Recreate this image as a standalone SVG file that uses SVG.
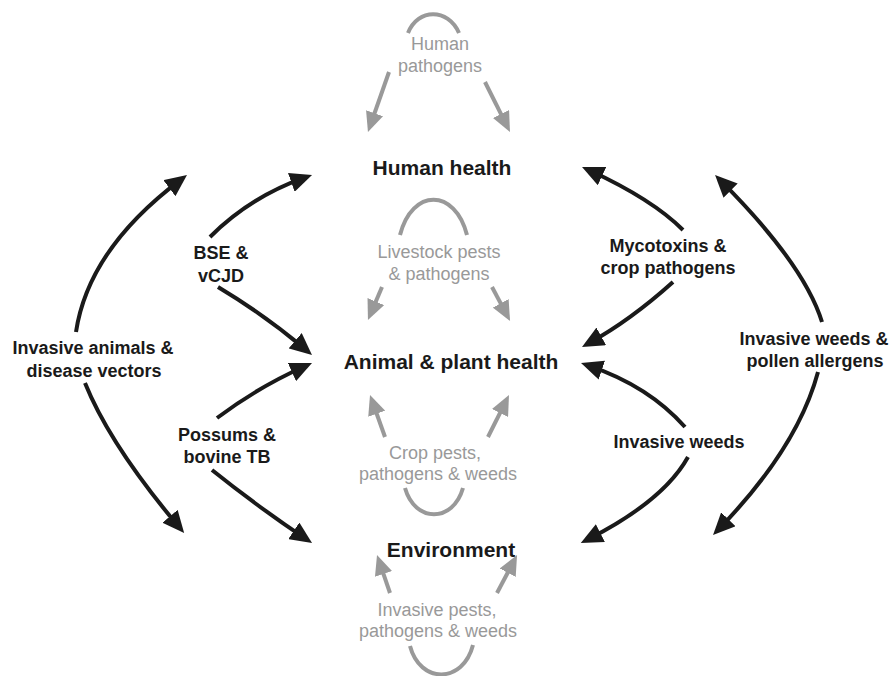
<svg xmlns="http://www.w3.org/2000/svg" width="894" height="676" viewBox="0 0 894 676">
  <defs>
    <marker id="arrow-dark" viewBox="0 0 22 20" refX="14" refY="10" markerWidth="22" markerHeight="20" markerUnits="userSpaceOnUse" orient="auto">
      <path d="M0,0 L22,10 L0,20 z" fill="#1a1a1a"/>
    </marker>
    <marker id="arrow-grey" viewBox="0 0 20 18" refX="12" refY="9" markerWidth="20" markerHeight="18" markerUnits="userSpaceOnUse" orient="auto">
      <path d="M0,0 L20,9 L0,18 z" fill="#999999"/>
    </marker>
  </defs>
  <style>
    .title { font-family: "Liberation Sans", Arial, sans-serif; font-weight: bold; font-size: 21px; fill: #1a1a1a; text-anchor: middle; }
    .label { font-family: "Liberation Sans", Arial, sans-serif; font-weight: bold; font-size: 18px; fill: #1a1a1a; text-anchor: middle; }
    .glabel { font-family: "Liberation Sans", Arial, sans-serif; font-size: 18px; fill: #999999; text-anchor: middle; }
    .dark { fill: none; stroke: #1a1a1a; stroke-width: 4; marker-end: url(#arrow-dark); }
    .grey { fill: none; stroke: #999999; stroke-width: 4; }
    .grey-arrow { fill: none; stroke: #999999; stroke-width: 4; marker-end: url(#arrow-grey); }
  </style>
  <rect width="894" height="676" fill="#ffffff"/>

  <!-- nodes -->
  <g id="human-health">
    <text class="title" x="442" y="175">Human health</text>
  </g>
  <g id="animal-plant-health">
    <text class="title" x="451" y="369">Animal &amp; plant health</text>
  </g>
  <g id="environment">
    <text class="title" x="451" y="557">Environment</text>
  </g>

  <!-- connectors -->
  <g id="connectors">
    <!-- BSE & vCJD -->
    <path class="dark" d="M210,237 Q250,197 304.5,177.7"/>
    <path class="dark" d="M218,287 Q265.6,315.6 305.9,349.8"/>
    <!-- Invasive animals & disease vectors -->
    <path class="dark" d="M76,332 Q88.5,249 180.6,179.8"/>
    <path class="dark" d="M85,383 Q110,445 179,527"/>
    <!-- Possums & bovine TB -->
    <path class="dark" d="M217,418 Q257.8,387.4 304.7,366.3"/>
    <path class="dark" d="M212,470 Q258.2,507 305.4,538.6"/>
    <!-- Mycotoxins & crop pathogens -->
    <path class="dark" d="M683,230 Q652.4,199.4 589.3,170.3"/>
    <path class="dark" d="M673,282 Q630.3,320.4 589,343.1"/>
    <!-- Invasive weeds -->
    <path class="dark" d="M685,427 Q648.7,386 588.6,365.6"/>
    <path class="dark" d="M688,457 Q663.6,500.9 587.9,539.4"/>
    <!-- Invasive weeds & pollen allergens -->
    <path class="dark" d="M822,322 Q804,264 720.7,180.7"/>
    <path class="dark" d="M818,372 Q797.5,448 718.6,529.3"/>

    <!-- Human pathogens loop -->
    <path class="grey" d="M408,33 C418,8 448,8 459,33"/>
    <path class="grey-arrow" d="M389,72 L370.6,124.5"/>
    <path class="grey-arrow" d="M485,82 L506.4,124.8"/>
    <!-- Livestock pests & pathogens loop -->
    <path class="grey" d="M400,235 C412,188 455,188 467,235"/>
    <path class="grey-arrow" d="M382,287 L371.1,312.6"/>
    <path class="grey-arrow" d="M492,287 L506.3,313.9"/>
    <!-- Crop pests, pathogens & weeds loop -->
    <path class="grey" d="M405,488 C415,523 453,523 463,488"/>
    <path class="grey-arrow" d="M385,437 L372.7,402.5"/>
    <path class="grey-arrow" d="M488,437 L505.4,402.2"/>
    <!-- Invasive pests, pathogens & weeds loop -->
    <path class="grey" d="M410,646 C420,684 463,684 473,645"/>
    <path class="grey-arrow" d="M390,593 L379.6,562.6"/>
    <path class="grey-arrow" d="M497,593 L513.3,562.1"/>
  </g>

  <!-- connector labels -->
  <g id="label-bse">
    <text class="label" x="221" y="259">BSE &amp;</text>
    <text class="label" x="221" y="282">vCJD</text>
  </g>
  <g id="label-invasive-animals">
    <text class="label" x="93" y="354">Invasive animals &amp;</text>
    <text class="label" x="94" y="377">disease vectors</text>
  </g>
  <g id="label-possums">
    <text class="label" x="227" y="441">Possums &amp;</text>
    <text class="label" x="227" y="463">bovine TB</text>
  </g>
  <g id="label-mycotoxins">
    <text class="label" x="668" y="252">Mycotoxins &amp;</text>
    <text class="label" x="668" y="274">crop pathogens</text>
  </g>
  <g id="label-invasive-weeds">
    <text class="label" x="679" y="448">Invasive weeds</text>
  </g>
  <g id="label-pollen">
    <text class="label" x="814" y="345">Invasive weeds &amp;</text>
    <text class="label" x="815" y="367">pollen allergens</text>
  </g>
  <g id="label-human-pathogens">
    <text class="glabel" x="440" y="50">Human</text>
    <text class="glabel" x="440" y="72">pathogens</text>
  </g>
  <g id="label-livestock">
    <text class="glabel" x="439" y="258">Livestock pests</text>
    <text class="glabel" x="439" y="280">&amp; pathogens</text>
  </g>
  <g id="label-crop">
    <text class="glabel" x="435" y="459">Crop pests,</text>
    <text class="glabel" x="438" y="480">pathogens &amp; weeds</text>
  </g>
  <g id="label-invasive-pests">
    <text class="glabel" x="437" y="616">Invasive pests,</text>
    <text class="glabel" x="438" y="637">pathogens &amp; weeds</text>
  </g>
</svg>
